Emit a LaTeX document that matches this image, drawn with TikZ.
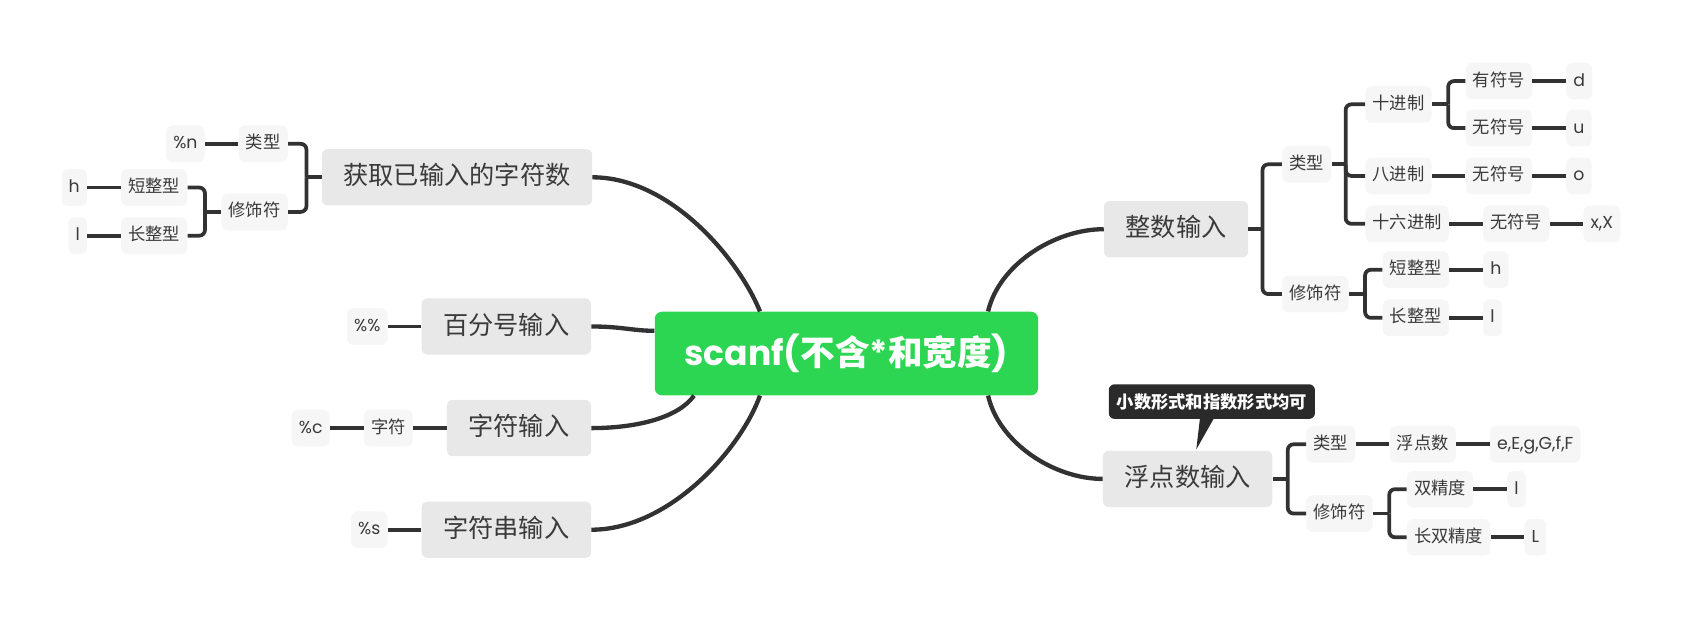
\documentclass[tikz,border=0pt]{standalone}
\usepackage{fontspec}
\setmainfont{Noto Sans CJK SC}
\newfontfamily\latinfont{Poppins}
\usetikzlibrary{calc,positioning}

\definecolor{rootgreen}{RGB}{44,214,82}
\definecolor{branchgray}{RGB}{232,232,232}
\definecolor{topicgray}{RGB}{246,246,246}
\definecolor{inkgray}{RGB}{58,58,58}
\definecolor{linegray}{RGB}{50,50,50}
\definecolor{notegray}{RGB}{42,42,42}

\begin{document}
\begin{tikzpicture}[x=0.75pt,y=-0.75pt,node distance=23.25pt,every node/.style={inner ysep=0pt,text=inkgray},
    root/.style={fill=rootgreen,text=white,rounded corners=5pt,minimum width=266pt,minimum height=58pt,font=\fontsize{24}{28}\selectfont\bfseries},
    branch/.style={fill=branchgray,rounded corners=4pt,minimum height=39pt,inner xsep=15pt,text height=14pt,text depth=3.5pt,font=\fontsize{17.5}{20}\selectfont},
    topic/.style={fill=topicgray,rounded corners=4.5pt,minimum height=25.5pt,inner xsep=5pt,text height=9.5pt,text depth=2.5pt,font=\fontsize{12}{14}\selectfont},
    leaf/.style={topic,font=\fontsize{12}{14}\selectfont\latinfont},
    note/.style={fill=notegray,text=white,rounded corners=4pt,minimum width=143pt,minimum height=24pt,font=\fontsize{12}{14}\selectfont\bfseries},
    trunk/.style={draw=linegray,line width=3pt},
    link/.style={draw=linegray,line width=2.6pt},
    fork/.style={link,rounded corners=4pt}]

    \useasboundingbox (0,0) rectangle (1559.6,573.5);

    \node[root] (scanf) at (783,327) {{\latinfont scanf(}不含{\latinfont *}和宽度{\latinfont )}};

    % left side
    \node[branch,anchor=east] (count) at (548,164) {获取已输入的字符数};
    \node[branch,anchor=east] (percent) at (547,302) {百分号输入};
    \node[branch,anchor=east] (chr) at (547,396) {字符输入};
    \node[branch,anchor=east] (string) at (547,490) {字符串输入};

    \node[topic,anchor=east] (countType) at ($(count.west)+(-31,-31)$) {类型};
    \node[topic,anchor=east] (countMod) at ($(count.west)+(-31,32)$) {修饰符};
    \node[leaf,left=of countType] (countN) {\%n};
    \node[topic,anchor=east] (countShort) at ($(countMod.west)+(-31,-22.5)$) {短整型};
    \node[topic,anchor=east] (countLong) at ($(countMod.west)+(-31,22)$) {长整型};
    \node[leaf,left=of countShort] (countH) {h};
    \node[leaf,left=of countLong] (countL) {l};

    \node[leaf,left=of percent] (percentLeaf) {\%\%};
    \node[topic,left=of chr] (chrType) {字符};
    \node[leaf,left=of chrType] (chrLeaf) {\%c};
    \node[leaf,left=of string] (stringLeaf) {\%s};

    % right side
    \node[branch,anchor=west] (int) at (1021,212) {整数输入};
    \node[branch,anchor=west] (float) at (1020,443) {浮点数输入};

    \node[topic,anchor=west] (intType) at ($(int.east)+(31,-60)$) {类型};
    \node[topic,anchor=west] (intMod) at ($(int.east)+(31,60)$) {修饰符};
    \node[topic,anchor=west] (dec) at ($(intType.east)+(31,-55.5)$) {十进制};
    \node[topic,anchor=west] (oct) at ($(intType.east)+(31,10.7)$) {八进制};
    \node[topic,anchor=west] (hex) at ($(intType.east)+(31,55)$) {十六进制};
    \node[topic,anchor=west] (decSigned) at ($(dec.east)+(31,-21.5)$) {有符号};
    \node[topic,anchor=west] (decUnsigned) at ($(dec.east)+(31,22)$) {无符号};
    \node[topic,right=of oct] (octUnsigned) {无符号};
    \node[topic,right=of hex] (hexUnsigned) {无符号};
    \node[leaf,right=of decSigned] (decD) {d};
    \node[leaf,right=of decUnsigned] (decU) {u};
    \node[leaf,right=of octUnsigned] (octO) {o};
    \node[leaf,right=of hexUnsigned] (hexX) {x,X};
    \node[topic,anchor=west] (intShort) at ($(intMod.east)+(31,-22.5)$) {短整型};
    \node[topic,anchor=west] (intLong) at ($(intMod.east)+(31,22)$) {长整型};
    \node[leaf,right=of intShort] (intH) {h};
    \node[leaf,right=of intLong] (intL) {l};

    \node[topic,anchor=west] (floatType) at ($(float.east)+(31,-32)$) {类型};
    \node[topic,anchor=west] (floatMod) at ($(float.east)+(31,32)$) {修饰符};
    \node[topic,right=of floatType] (floatKind) {浮点数};
    \node[leaf,right=of floatKind] (floatFmt) {e,E,g,G,f,F};
    \node[topic,anchor=west] (dbl) at ($(floatMod.east)+(31,-22.5)$) {双精度};
    \node[topic,anchor=west] (ldbl) at ($(floatMod.east)+(31,22)$) {长双精度};
    \node[leaf,right=of dbl] (dblL) {l};
    \node[leaf,right=of ldbl] (ldblL) {L};

    \node[note] (floatNote) at (1121,371.5) {小数形式和指数形式均可};
    \fill[notegray] ($(floatNote.south)+(-11,-1)$) -- ($(floatNote.south)+(2,-1)$) -- ($(float.north)+(8,-1)$) -- cycle;

    % main curves
    \draw[trunk] (count.east) .. controls +(72,0) and +(-20,-49) .. ($(scanf.north)+(-80,0)$);
    \draw[trunk] (percent.east) .. controls +(28,0) and +(-20,0) .. ($(scanf.west)+(0,-21)$);
    \draw[trunk] (chr.east) .. controls +(43,0) and +(-14,20) .. ($(scanf.south)+(-141,0)$);
    \draw[trunk] (string.east) .. controls +(72,0) and +(-18,50) .. ($(scanf.south)+(-80,0)$);
    \draw[trunk] (int.west) .. controls +(-46,0) and +(10,-43) .. ($(scanf.north)+(131,0)$);
    \draw[trunk] (float.west) .. controls +(-45,0) and +(10,44) .. ($(scanf.south)+(131,0)$);

    % brackets
    \draw[link] (count.west) -- ++(-14,0) coordinate (countJ);
    \draw[link] (countMod.west) -- ++(-15,0) coordinate (countModJ);
    \draw[link] (int.east) -- ++(13,0) coordinate (intJ);
    \draw[link] (intType.east) -- ++(13,0) coordinate (intTypeJ);
    \draw[link] (dec.east) -- ++(15,0) coordinate (decJ);
    \draw[link] (intMod.east) -- ++(15,0) coordinate (intModJ);
    \draw[link] (float.east) -- ++(14,0) coordinate (floatJ);
    \draw[link] (floatMod.east) -- ++(15,0) coordinate (floatModJ);
    \foreach \j/\c in {countJ/countType,countJ/countMod,countModJ/countShort,countModJ/countLong}
      \draw[fork] (\j) |- (\c.east);
    \foreach \j/\c in {intJ/intType,intJ/intMod,intTypeJ/dec,intTypeJ/oct,intTypeJ/hex,decJ/decSigned,decJ/decUnsigned,
        intModJ/intShort,intModJ/intLong,floatJ/floatType,floatJ/floatMod,floatModJ/dbl,floatModJ/ldbl}
      \draw[fork] (\j) |- (\c.west);

    % straight links
    \foreach \a/\b in {countN/countType,countH/countShort,countL/countLong,percentLeaf/percent,chrLeaf/chrType,chrType/chr,
        stringLeaf/string,oct/octUnsigned,octUnsigned/octO,hex/hexUnsigned,hexUnsigned/hexX,decSigned/decD,decUnsigned/decU,
        intShort/intH,intLong/intL,floatType/floatKind,floatKind/floatFmt,dbl/dblL,ldbl/ldblL}
      \draw[link] (\a) -- (\b);
\end{tikzpicture}
\end{document}
